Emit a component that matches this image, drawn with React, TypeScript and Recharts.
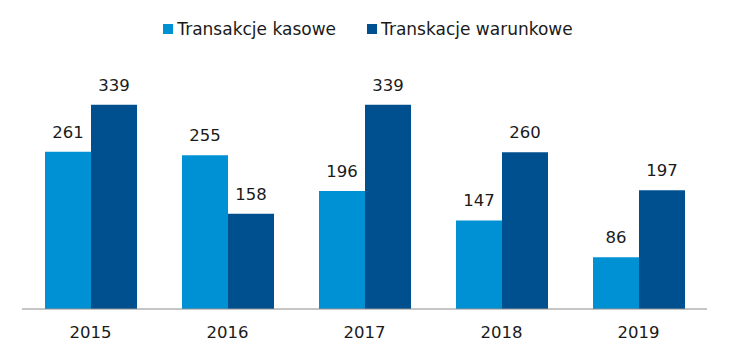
import React from "react";
import { BarChart, Bar, XAxis, YAxis, LabelList } from "recharts";

const years = ["2015", "2016", "2017", "2018", "2019"];
const kasowe = [261, 255, 196, 147, 86];
const warunkowe = [339, 158, 339, 260, 197];
const seriesNames = ["Transakcje kasowe", "Transkacje warunkowe"];

const data = years.map((y, i) => ({ year: y, kasowe: kasowe[i], warunkowe: warunkowe[i] }));

const FONT = "'DejaVu Sans', Verdana, sans-serif";
const LIGHT = "#0091d5";
const DARK = "#00508f";
const colors = [LIGHT, DARK];

export default function App() {
  return (
    <div style={{ position: "absolute", left: 0, top: 0, width: 730, height: 355 }}>
      <div
        style={{
          position: "absolute",
          top: 18,
          left: 3,
          width: 730,
          display: "flex",
          justifyContent: "center",
          fontFamily: FONT,
          fontSize: 17,
          lineHeight: "22px",
          color: "#1a1a1a",
        }}
      >
        {seriesNames.map((n, i) => (
          <div key={i} style={{ display: "flex", alignItems: "center", marginLeft: i === 0 ? 0 : 31 }}>
            <span style={{ display: "inline-block", width: 10, height: 10, background: colors[i], marginRight: 4 }} />
            <span>{n}</span>
          </div>
        ))}
      </div>
      <BarChart
        width={730}
        height={355}
        data={data}
        margin={{ top: 68, right: 23, left: 22, bottom: 0 }}
        barCategoryGap={23}
        barGap={0}
      >
        <XAxis
          dataKey="year"
          height={46}
          tickLine={false}
          axisLine={{ stroke: "#8c8c8c", strokeWidth: 1 }}
          tick={{ fill: "#1a1a1a", fontFamily: FONT, fontSize: 16.5 }}
          tickMargin={11}
        />
        <YAxis hide domain={[0, 400]} />
        <Bar dataKey="kasowe" name={seriesNames[0]} fill={LIGHT} isAnimationActive={false}>
          <LabelList dataKey="kasowe" position="top" offset={14} style={{ fill: "#1a1a1a", fontFamily: FONT, fontSize: 16.5 }} />
        </Bar>
        <Bar dataKey="warunkowe" name={seriesNames[1]} fill={DARK} isAnimationActive={false}>
          <LabelList dataKey="warunkowe" position="top" offset={14} style={{ fill: "#1a1a1a", fontFamily: FONT, fontSize: 16.5 }} />
        </Bar>
      </BarChart>
    </div>
  );
}
